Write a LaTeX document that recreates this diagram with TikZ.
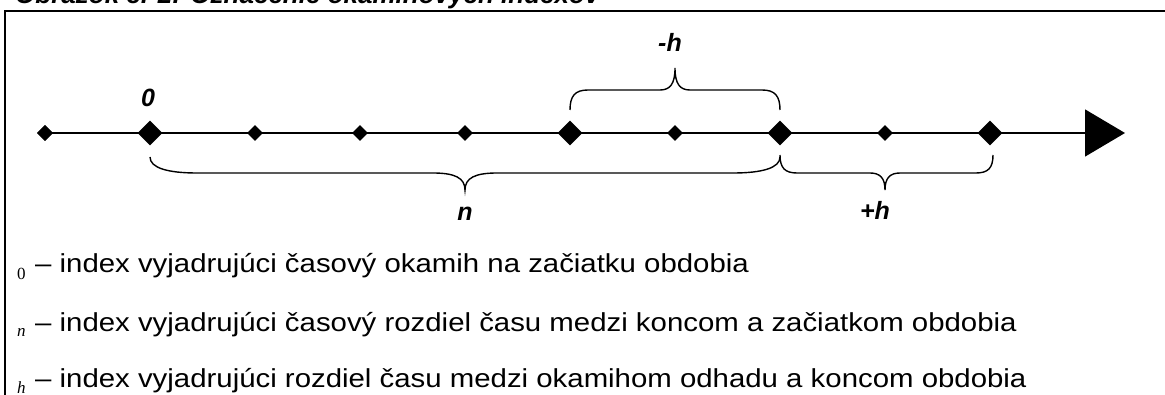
\documentclass[tikz,border=0pt]{standalone}
\usepackage{fontspec}
\setmainfont{Liberation Sans}
\newfontfamily\legendfont[FakeStretch=1.13]{Liberation Sans}
\newfontfamily\idxfont{Liberation Serif}
\usetikzlibrary{shapes.geometric,arrows.meta,calc}

\begin{document}
\begin{tikzpicture}[x=1pt,y=-1pt,
  bigdot/.style={diamond,fill=black,inner sep=0,minimum width=25pt,minimum height=25pt},
  smalldot/.style={diamond,fill=black,inner sep=0,minimum width=16pt,minimum height=16pt},
  axis/.style={line width=1.5pt},
  brace/.style={line width=1.4pt},
  frame/.style={line width=2pt},
  lbl/.style={font=\fontsize{25}{25}\selectfont\bfseries\itshape,inner sep=0},
  legend/.style={font=\legendfont\fontsize{26}{26}\selectfont,inner sep=0,anchor=base west},
  sub/.style={font=\idxfont\fontsize{17}{17}\selectfont,inner sep=0,anchor=base west},
  title/.style={font=\fontsize{26}{26}\selectfont\bfseries\itshape,inner sep=0,anchor=base west}]
\useasboundingbox (0,0) rectangle (1165,395);

% caption above the frame
\node[title] (cap) at (15,4) {Obrázok č. 2: Označenie okamihových indexov};

% frame
\draw[frame] (5,400) -- (5,11) -- (1170,11);

% time axis
\coordinate (tip) at (1125,133);
\node[smalldot] (s0) at (45,133) {};
\draw[axis,-{Triangle[length=40pt,width=47pt]}] (s0.center) -- (tip);
\node[smalldot] (s0) at (45,133) {};
\node[bigdot]   (b0) at (150,133) {};
\node[smalldot] (s1) at (255,133) {};
\node[smalldot] (s2) at (360,133) {};
\node[smalldot] (s3) at (465,133) {};
\node[bigdot]   (b1) at (570,133) {};
\node[smalldot] (s4) at (675,133) {};
\node[bigdot]   (b2) at (780,133) {};
\node[smalldot] (s5) at (885,133) {};
\node[bigdot]   (b3) at (990,133) {};

% brace n (below, from 0 to the end of the period)
\draw[brace] ($(b0)+(0,24)$) .. controls (150,168) and (168,173) .. (197,173)
  -- (433,173) .. controls (455,173) and (465,178) .. (465,190)
  .. controls (465,178) and (475,173) .. (497,173)
  -- (733,173) .. controls (762,173) and (780,168) .. ($(b2)+(0,24)$);

% brace -h (above)
\draw[brace] ($(b1)+(0,-23)$) .. controls (570,96) and (575,90) .. (588,90)
  -- (660,90) .. controls (670,90) and (675,84) .. (675,68)
  .. controls (675,84) and (680,90) .. (690,90)
  -- (762,90) .. controls (775,90) and (780,96) .. ($(b2)+(0,-23)$);

% brace +h (below)
\draw[brace] ($(b2)+(0,22)$) .. controls (780,168) and (785,173) .. (797,173)
  -- (870,173) .. controls (880,173) and (885,178) .. (885,190)
  .. controls (885,178) and (890,173) .. (900,173)
  -- (976,173) .. controls (988,173) and (993,168) .. ($(b3)+(3,22)$);

% labels
\node[lbl] (l0) at (148,98) {0};
\node[lbl] (lmh) at (670,42) {-h};
\node[lbl] (ln) at (465,214) {n};
\node[lbl] (lph) at (875,210) {+h};

% legend
\node[sub] (i0) at (17,280) {0};
\node[legend] (t0) at (35,273) {– index vyjadrujúci časový okamih na začiatku obdobia};
\node[sub] (i1) at (17,337) {\itshape n};
\node[legend] (t1) at (35,332) {– index vyjadrujúci časový rozdiel času medzi koncom a začiatkom obdobia};
\node[sub] (i2) at (17,393) {\itshape h};
\node[legend] (t2) at (35,387) {– index vyjadrujúci rozdiel času medzi okamihom odhadu a koncom obdobia};
\end{tikzpicture}
\end{document}
